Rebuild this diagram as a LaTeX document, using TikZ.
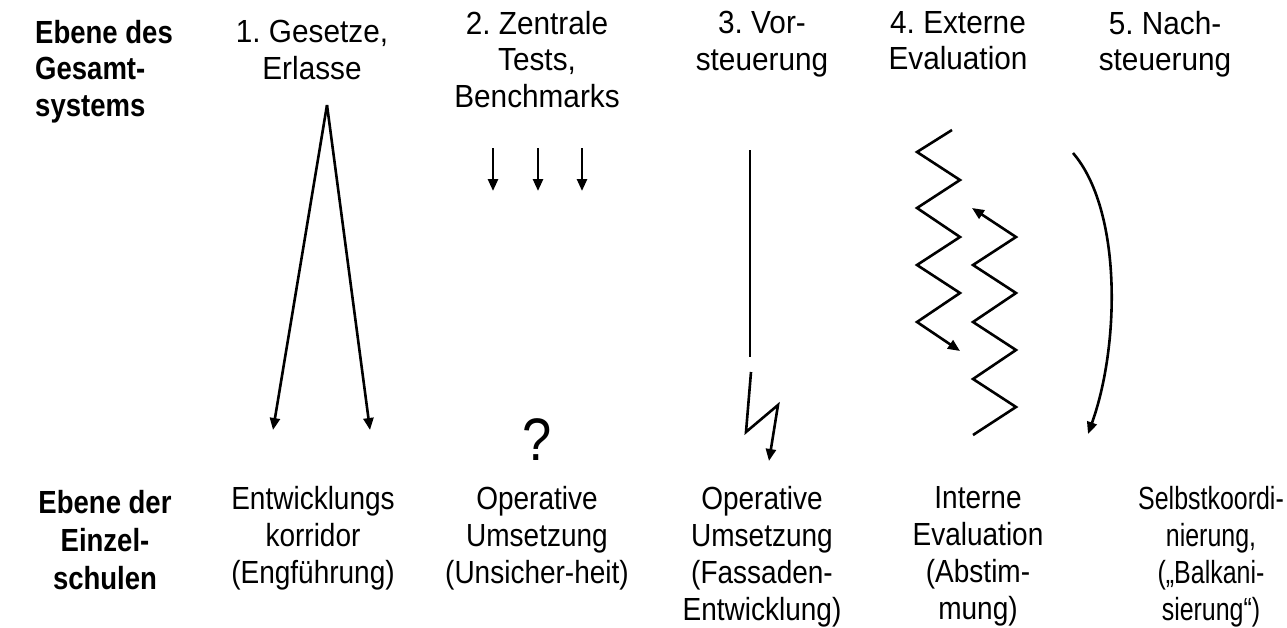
\documentclass[tikz,border=0pt]{standalone}
\usepackage{fontspec}
\setmainfont{Liberation Sans}[FakeStretch=0.875]
\newfontfamily\topfont{Liberation Sans}[FakeStretch=0.93]
\newfontfamily\narrowfont{Liberation Sans}[FakeStretch=0.78]
\newfontfamily\lvlfont{Liberation Sans}[FakeStretch=0.86,UprightFont=*,BoldFont=* Bold]
\usetikzlibrary{arrows.meta}
\tikzset{
  lbl/.style={align=center,inner sep=0pt,anchor=north,font=\fontsize{32}{37}\selectfont\frenchspacing},
  toplbl/.style={lbl,font=\topfont\fontsize{32}{36.5}\selectfont\frenchspacing},
  lvl/.style={align=left,inner sep=0pt,anchor=north west,font=\lvlfont\fontsize{32}{36.5}\selectfont\bfseries},
  lvlc/.style={align=center,inner sep=0pt,anchor=north,font=\lvlfont\fontsize{32}{38}\selectfont\bfseries},
  ln/.style={line width=2.6pt,line join=miter},
  arr/.style={ln,-{Triangle[length=12pt,width=10pt]}}
}
\begin{document}
\begin{tikzpicture}[x=1pt,y=-1pt]
\useasboundingbox (0,0) rectangle (1287,627);
% top labels
\node[lvl] (top) at (35,20) {Ebene des\\Gesamt-\\systems};
\node[toplbl] (t1) at (312,20) {1. Gesetze,\\Erlasse};
\node[toplbl] (t2) at (537,11) {2. Zentrale\\Tests,\\Benchmarks};
\node[toplbl] (t3) at (762,11) {3. Vor-\\steuerung};
\node[toplbl] (t4) at (958,11) {4. Externe\\Evaluation};
\node[toplbl] (t5) at (1165,11) {5. Nach-\\steuerung};
% bottom labels
\node[lvlc] (bot) at (105,490) {Ebene der\\Einzel-\\schulen};
\node[lbl] (b1) at (313,486) {Entwicklungs\\korridor\\(Engführung)};
\node[lbl] (b2) at (537,486) {Operative\\Umsetzung\\(Unsicher-heit)};
\node[lbl] (b3) at (762,486) {Operative\\Umsetzung\\(Fassaden-\\Entwicklung)};
\node[lbl] (b4) at (978,486) {Interne\\Evaluation\\(Abstim-\\mung)};
\node[lbl,font=\narrowfont\fontsize{32}{37}\selectfont] (b5) at (1211,486) {Selbstkoordi-\\nierung,\\(„Balkani-\\sierung“)};
\node[inner sep=0pt,font=\fontsize{60}{62}\selectfont] (q) at (537,440) {?};
% 1. fan
\coordinate (apex) at (327,105);
\coordinate (f1) at (273,430);
\coordinate (f2) at (370,430);
\draw[arr] (apex) -- (f1);
\draw[arr] (apex) -- (f2);
% 2. three arrows
\foreach \i/\x in {1/493,2/538,3/582}{
  \coordinate (s\i) at (\x,148);
  \coordinate (e\i) at (\x,191);
  \draw[arr] (s\i) -- (e\i);
}
% 3. lightning
\coordinate (v1) at (750,150);
\coordinate (v2) at (750,357);
\coordinate (l1) at (751,372);
\coordinate (l2) at (746,432);
\coordinate (l3) at (778,405);
\coordinate (l4) at (769,461);
\draw[ln] (v1) -- (v2);
\draw[arr] (l1) -- (l2) -- (l3) -- (l4);
% 4. zigzags
\draw[arr] (952,130) -- (917,152) -- (960,180) -- (917,208) -- (960,237)
  -- (917,265) -- (960,293) -- (917,322) -- (960,351);
\draw[arr] (973,435) -- (1016,407) -- (973,379) -- (1016,350) -- (973,322)
  -- (1016,293) -- (973,265) -- (1016,237) -- (972,208);
% 5. curve
\coordinate (c1) at (1073,153);
\coordinate (c2) at (1088,434);
\draw[arr] (c1) .. controls (1122,210) and (1120,345) .. (c2);
\end{tikzpicture}
\end{document}
